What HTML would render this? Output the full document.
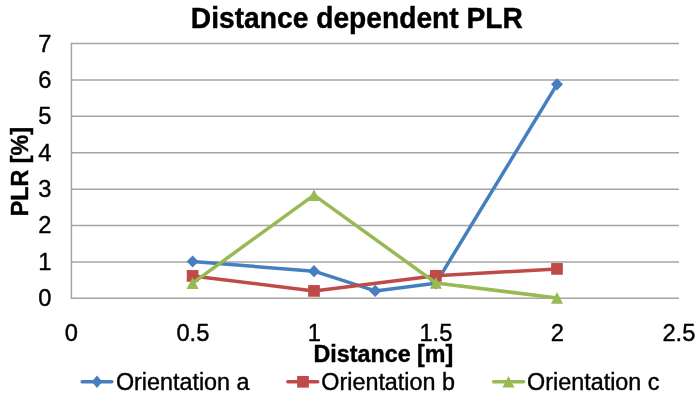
<!DOCTYPE html>
<html><head><meta charset="utf-8"><title>Distance dependent PLR</title>
<style>
html,body{margin:0;padding:0;background:#fff;}
body{width:700px;height:400px;overflow:hidden;}
svg{display:block;}
text{font-family:"Liberation Sans",Arial,sans-serif;fill:#000;stroke:#000;stroke-width:0.4px;stroke-linejoin:round;}
.t{font-size:23.7px;}
.l{font-size:23.35px;}
.b{font-size:23.3px;font-weight:bold;}
.title{font-size:28.2px;font-weight:bold;}
</style></head><body>
<svg width="700" height="400" viewBox="0 0 700 400">
<rect width="700" height="400" fill="#fff"/>
<line x1="71.4" y1="298.30" x2="678.9" y2="298.30" stroke="#a4a4a4" stroke-width="1.5"/>
<line x1="71.4" y1="261.91" x2="678.9" y2="261.91" stroke="#a4a4a4" stroke-width="1.5"/>
<line x1="71.4" y1="225.53" x2="678.9" y2="225.53" stroke="#a4a4a4" stroke-width="1.5"/>
<line x1="71.4" y1="189.14" x2="678.9" y2="189.14" stroke="#a4a4a4" stroke-width="1.5"/>
<line x1="71.4" y1="152.76" x2="678.9" y2="152.76" stroke="#a4a4a4" stroke-width="1.5"/>
<line x1="71.4" y1="116.37" x2="678.9" y2="116.37" stroke="#a4a4a4" stroke-width="1.5"/>
<line x1="71.4" y1="79.99" x2="678.9" y2="79.99" stroke="#a4a4a4" stroke-width="1.5"/>
<line x1="71.4" y1="43.60" x2="678.9" y2="43.60" stroke="#a4a4a4" stroke-width="1.5"/>
<line x1="71.4" y1="42.85" x2="71.4" y2="299.05" stroke="#a4a4a4" stroke-width="1.5"/>
<text class="t" transform="translate(51.30,306.20) scale(1,1.04)" text-anchor="end">0</text>
<text class="t" transform="translate(51.30,269.81) scale(1,1.04)" text-anchor="end">1</text>
<text class="t" transform="translate(51.30,233.43) scale(1,1.04)" text-anchor="end">2</text>
<text class="t" transform="translate(51.30,197.04) scale(1,1.04)" text-anchor="end">3</text>
<text class="t" transform="translate(51.30,160.66) scale(1,1.04)" text-anchor="end">4</text>
<text class="t" transform="translate(51.30,124.27) scale(1,1.04)" text-anchor="end">5</text>
<text class="t" transform="translate(51.30,87.89) scale(1,1.04)" text-anchor="end">6</text>
<text class="t" transform="translate(51.30,51.50) scale(1,1.04)" text-anchor="end">7</text>
<text class="t" transform="translate(71.40,340.60) scale(1,1.04)" text-anchor="middle">0</text>
<text class="t" transform="translate(192.90,340.60) scale(1,1.04)" text-anchor="middle">0.5</text>
<text class="t" transform="translate(314.40,340.60) scale(1,1.04)" text-anchor="middle">1</text>
<text class="t" transform="translate(435.90,340.60) scale(1,1.04)" text-anchor="middle">1.5</text>
<text class="t" transform="translate(557.40,340.60) scale(1,1.04)" text-anchor="middle">2</text>
<text class="t" transform="translate(678.90,340.60) scale(1,1.04)" text-anchor="middle">2.5</text>
<text class="title" transform="translate(356.85,27.70) scale(1,1.02)" text-anchor="middle">Distance dependent PLR</text>
<text class="b" transform="translate(383.40,361.60) scale(1,1.02)" text-anchor="middle">Distance [m]</text>
<text class="b" transform="translate(28.00,171.60) rotate(-90) scale(1,1.04)" text-anchor="middle">PLR [%]</text>
<polyline points="192.60,261.50 314.00,271.20 375.20,290.90 435.90,283.30 557.00,84.30" fill="none" stroke="#467fbf" stroke-width="3.5" stroke-linejoin="round" stroke-linecap="round"/>
<polygon points="192.60,255.40 198.60,261.50 192.60,267.60 186.60,261.50" fill="#467fbf"/>
<polygon points="314.00,265.10 320.00,271.20 314.00,277.30 308.00,271.20" fill="#467fbf"/>
<polygon points="375.20,284.80 381.20,290.90 375.20,297.00 369.20,290.90" fill="#467fbf"/>
<polygon points="435.90,277.20 441.90,283.30 435.90,289.40 429.90,283.30" fill="#467fbf"/>
<polygon points="557.00,78.20 563.00,84.30 557.00,90.40 551.00,84.30" fill="#467fbf"/>
<polyline points="192.60,275.90 314.00,290.90 435.90,275.80 557.00,268.90" fill="none" stroke="#be4b48" stroke-width="3.5" stroke-linejoin="round" stroke-linecap="round"/>
<rect x="186.75" y="270.05" width="11.70" height="11.70" fill="#be4b48"/>
<rect x="308.15" y="285.05" width="11.70" height="11.70" fill="#be4b48"/>
<rect x="430.05" y="269.95" width="11.70" height="11.70" fill="#be4b48"/>
<rect x="551.15" y="263.05" width="11.70" height="11.70" fill="#be4b48"/>
<polyline points="192.60,283.10 314.00,195.20 435.90,283.00 557.00,297.90" fill="none" stroke="#98b954" stroke-width="3.5" stroke-linejoin="round" stroke-linecap="round"/>
<polygon points="192.60,277.20 198.60,288.90 186.60,288.90" fill="#98b954"/>
<polygon points="314.00,189.30 320.00,201.00 308.00,201.00" fill="#98b954"/>
<polygon points="435.90,277.10 441.90,288.80 429.90,288.80" fill="#98b954"/>
<polygon points="557.00,292.00 563.00,303.70 551.00,303.70" fill="#98b954"/>
<line x1="82.2" y1="381.7" x2="111.8" y2="381.7" stroke="#467fbf" stroke-width="3.5" stroke-linecap="round"/>
<polygon points="97.00,375.60 102.30,381.80 97.00,388.00 91.70,381.80" fill="#467fbf"/>
<text class="l" transform="translate(115.90,389.60) scale(1,1.0)" text-anchor="start">Orientation a</text>
<line x1="287.9" y1="381.7" x2="317.7" y2="381.7" stroke="#be4b48" stroke-width="3.5" stroke-linecap="round"/>
<rect x="297.15" y="375.95" width="11.70" height="11.70" fill="#be4b48"/>
<text class="l" transform="translate(321.30,389.60) scale(1,1.0)" text-anchor="start">Orientation b</text>
<line x1="493.6" y1="381.7" x2="523.5" y2="381.7" stroke="#98b954" stroke-width="3.5" stroke-linecap="round"/>
<polygon points="508.50,375.90 514.50,387.60 502.50,387.60" fill="#98b954"/>
<text class="l" transform="translate(527.10,389.60) scale(1,1.0)" text-anchor="start">Orientation c</text>
</svg></body></html>
